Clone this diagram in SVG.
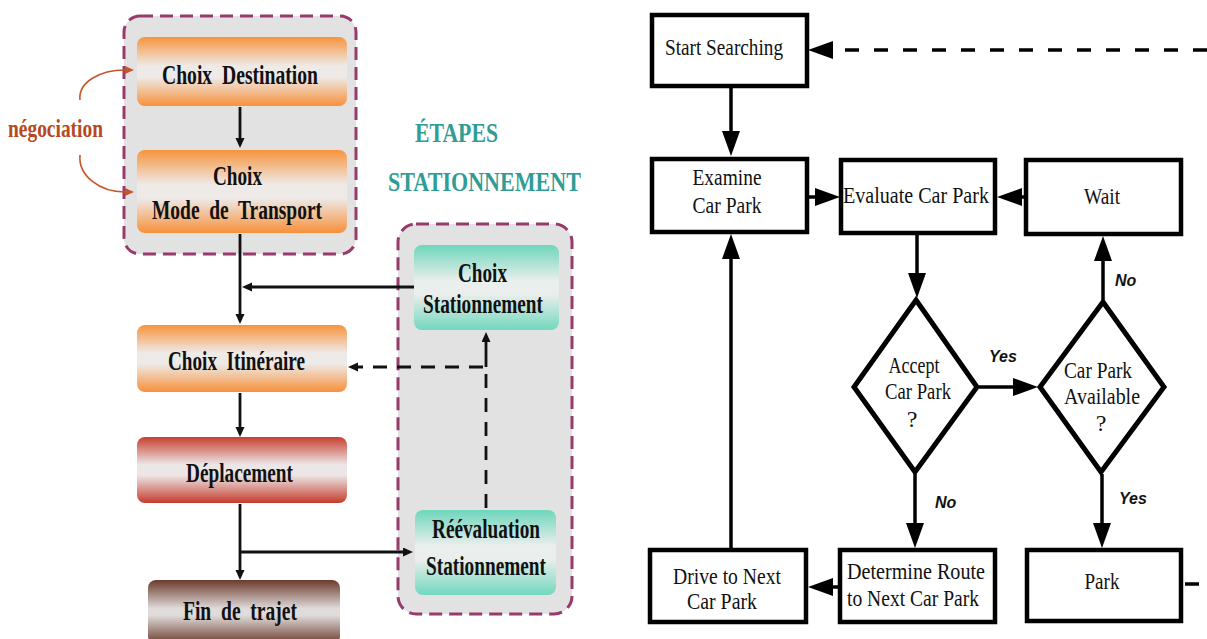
<svg xmlns="http://www.w3.org/2000/svg" width="1207" height="639" viewBox="0 0 1207 639">
<style>
.cont{fill:#e2e2e2;stroke:#973a6c;stroke-width:3;stroke-dasharray:13 7}
.lt{font-family:"Liberation Serif","Times New Roman",serif;font-weight:bold;font-size:27px;fill:#111;white-space:pre}
.ttl{font-family:"Liberation Serif","Times New Roman",serif;font-weight:bold;font-size:28px;fill:#2f9d96}
.neg{font-family:"Liberation Serif","Times New Roman",serif;font-weight:bold;font-size:25px;fill:#b54a22}
.rb{fill:#fff;stroke:#000;stroke-width:4.5}
.dm{fill:#fff;stroke:#000;stroke-width:5;stroke-linejoin:miter}
.rt{font-family:"Liberation Serif","Times New Roman",serif;font-size:24px;fill:#111;text-anchor:middle}
.lab{font-family:"Liberation Sans",Arial,sans-serif;font-weight:bold;font-style:italic;font-size:16px;fill:#111}
.lc{fill:none;stroke:#111;stroke-width:2.8}
.rc{fill:none;stroke:#000;stroke-width:3.5}
</style>
<defs>
<linearGradient id="gOr" x1="0" y1="0" x2="0" y2="1">
<stop offset="0" stop-color="#f7943c"/><stop offset="0.42" stop-color="#eeeae8"/><stop offset="0.58" stop-color="#eeeae8"/><stop offset="1" stop-color="#f7903a"/>
</linearGradient>
<linearGradient id="gRd" x1="0" y1="0" x2="0" y2="1">
<stop offset="0" stop-color="#c8402f"/><stop offset="0.42" stop-color="#ece6e6"/><stop offset="0.58" stop-color="#ece6e6"/><stop offset="1" stop-color="#c43c2c"/>
</linearGradient>
<linearGradient id="gBr" x1="0" y1="0" x2="0" y2="1">
<stop offset="0" stop-color="#6b3a2c"/><stop offset="0.45" stop-color="#e0dcdb"/><stop offset="0.55" stop-color="#e0dcdb"/><stop offset="1" stop-color="#6b3a2c"/>
</linearGradient>
<linearGradient id="gTl" x1="0" y1="0" x2="0" y2="1">
<stop offset="0" stop-color="#6ed6bc"/><stop offset="0.42" stop-color="#eaeeec"/><stop offset="0.58" stop-color="#eaeeec"/><stop offset="1" stop-color="#72d8be"/>
</linearGradient>
<marker id="sm" markerUnits="userSpaceOnUse" markerWidth="10" markerHeight="10" refX="0" refY="4.5" orient="auto"><path d="M0,0 L10,4.5 L0,9 z" fill="#111"/></marker>
<marker id="om" markerUnits="userSpaceOnUse" markerWidth="9" markerHeight="9" refX="0" refY="4" orient="auto"><path d="M0,0 L9,4 L0,8 z" fill="#c8552a"/></marker>
<marker id="big" markerUnits="userSpaceOnUse" markerWidth="26" markerHeight="20" refX="0" refY="9" orient="auto"><path d="M0,0 L25,9 L0,18 z" fill="#000"/></marker>
</defs>
<rect width="1207" height="639" fill="#fff"/>

<g id="group-decision">
<rect class="cont" x="124" y="16" width="232" height="238" rx="16"/>
</g>
<g id="group-stationnement">
<rect class="cont" x="398" y="224" width="174" height="390" rx="18"/>
</g>
<g id="title">
<text class="ttl" x="415" y="142" textLength="83" lengthAdjust="spacingAndGlyphs">ÉTAPES</text>
<text class="ttl" x="388" y="191" textLength="193" lengthAdjust="spacingAndGlyphs">STATIONNEMENT</text>
</g>
<g id="negociation">
<text class="neg" x="8" y="137" textLength="95" lengthAdjust="spacingAndGlyphs">négociation</text>
</g>

<g id="connectors">
<path class="lc" d="M240,107 L240,138" marker-end="url(#sm)"/>
<path class="lc" d="M240,234 L240,314" marker-end="url(#sm)"/>
<path class="lc" d="M414,287 L252,287" marker-end="url(#sm)"/>
<path class="lc" d="M486,367 L486,342" marker-end="url(#sm)"/>
<path class="lc" d="M486,508 L486,367 L358,367" stroke-dasharray="14 10" marker-end="url(#sm)"/>
<path class="lc" d="M240,393 L240,427" marker-end="url(#sm)"/>
<path class="lc" d="M240,504 L240,570" marker-end="url(#sm)"/>
<path class="lc" d="M240,552 L403,552" marker-end="url(#sm)"/>
<path d="M80,100 C78,82 100,70 125,70" fill="none" stroke="#c8552a" stroke-width="1.6" marker-end="url(#om)"/>
<path d="M80,155 C78,176 100,192 125,192" fill="none" stroke="#c8552a" stroke-width="1.6" marker-end="url(#om)"/>

<path class="rc" d="M1207,50 L833,50" stroke-width="5" stroke-dasharray="14 15" marker-end="url(#big)"/>
<path class="rc" d="M731,88 L731,131" marker-end="url(#big)"/>
<path class="rc" d="M809,197 L815,197" marker-end="url(#big)"/>
<path class="rc" d="M1024,197 L1022,197" marker-end="url(#big)"/>
<path class="rc" d="M917,235 L917,273" marker-end="url(#big)"/>
<path class="rc" d="M979,387 L1013,387" marker-end="url(#big)"/>
<path class="rc" d="M1103,300 L1103,261" marker-end="url(#big)"/>
<path class="rc" d="M915,474 L915,523" marker-end="url(#big)"/>
<path class="rc" d="M1102,474 L1102,523" marker-end="url(#big)"/>
<path class="rc" d="M838,587 L833,587" marker-end="url(#big)"/>
<path class="rc" d="M731,548 L731,259" marker-end="url(#big)"/>
<path class="rc" d="M1185,584 L1199,584" stroke-width="4"/>
</g>

<g id="choix-destination">
<rect x="137" y="37" width="210" height="69" rx="8" fill="url(#gOr)"/>
<text class="lt" x="162" y="84" textLength="156" lengthAdjust="spacingAndGlyphs" xml:space="preserve">Choix  Destination</text>
</g>
<g id="choix-mode">
<rect x="137" y="150" width="210" height="83" rx="8" fill="url(#gOr)"/>
<text class="lt" x="213" y="185" textLength="49" lengthAdjust="spacingAndGlyphs">Choix</text>
<text class="lt" x="152" y="219" textLength="170" lengthAdjust="spacingAndGlyphs" xml:space="preserve">Mode  de  Transport</text>
</g>
<g id="choix-itineraire">
<rect x="137" y="325" width="210" height="67" rx="8" fill="url(#gOr)"/>
<text class="lt" x="168" y="370" textLength="137" lengthAdjust="spacingAndGlyphs" xml:space="preserve">Choix  Itinéraire</text>
</g>
<g id="deplacement">
<rect x="137" y="437" width="210" height="66" rx="8" fill="url(#gRd)"/>
<text class="lt" x="186" y="482" textLength="107" lengthAdjust="spacingAndGlyphs">Déplacement</text>
</g>
<g id="fin-de-trajet">
<rect x="148" y="580" width="192" height="64" rx="8" fill="url(#gBr)"/>
<text class="lt" x="183" y="620" textLength="114" lengthAdjust="spacingAndGlyphs" xml:space="preserve">Fin  de  trajet</text>
</g>
<g id="choix-stationnement">
<rect x="414" y="245" width="145" height="85" rx="8" fill="url(#gTl)"/>
<text class="lt" x="458" y="282" textLength="49" lengthAdjust="spacingAndGlyphs">Choix</text>
<text class="lt" x="423" y="313" textLength="120" lengthAdjust="spacingAndGlyphs">Stationnement</text>
</g>
<g id="reevaluation-stationnement">
<rect x="415" y="510" width="141" height="85" rx="8" fill="url(#gTl)"/>
<text class="lt" x="432" y="538" textLength="108" lengthAdjust="spacingAndGlyphs">Réévaluation</text>
<text class="lt" x="426" y="575" textLength="120" lengthAdjust="spacingAndGlyphs">Stationnement</text>
</g>

<g id="start-searching">
<rect class="rb" x="652" y="15" width="155" height="71"/>
<text class="rt" x="724" y="55" textLength="118" lengthAdjust="spacingAndGlyphs">Start Searching</text>
</g>
<g id="examine-car-park">
<rect class="rb" x="652" y="159" width="155" height="73"/>
<text class="rt" x="727" y="185" textLength="69" lengthAdjust="spacingAndGlyphs">Examine</text>
<text class="rt" x="727" y="213" textLength="69" lengthAdjust="spacingAndGlyphs">Car Park</text>
</g>
<g id="evaluate-car-park">
<rect class="rb" x="841" y="160" width="154" height="73"/>
<text class="rt" x="916" y="203" textLength="146" lengthAdjust="spacingAndGlyphs">Evaluate Car Park</text>
</g>
<g id="wait">
<rect class="rb" x="1026" y="160" width="155" height="74"/>
<text class="rt" x="1102" y="204" textLength="36" lengthAdjust="spacingAndGlyphs">Wait</text>
</g>
<g id="accept-car-park">
<polygon class="dm" points="916,300 977,387 915,472 854,387"/>
<text class="rt" x="914" y="373" textLength="51" lengthAdjust="spacingAndGlyphs">Accept</text>
<text class="rt" x="918" y="399" textLength="66" lengthAdjust="spacingAndGlyphs">Car Park</text>
<text class="rt" x="912" y="427">?</text>
</g>
<g id="car-park-available">
<polygon class="dm" points="1103,302 1164,387 1101,472 1040,387"/>
<text class="rt" x="1098" y="378" textLength="68" lengthAdjust="spacingAndGlyphs">Car Park</text>
<text class="rt" x="1102" y="404" textLength="76" lengthAdjust="spacingAndGlyphs">Available</text>
<text class="rt" x="1101" y="431">?</text>
</g>
<g id="drive-next">
<rect class="rb" x="650" y="550" width="156" height="72"/>
<text class="rt" x="727" y="584" textLength="108" lengthAdjust="spacingAndGlyphs">Drive to Next</text>
<text class="rt" x="722" y="609" textLength="70" lengthAdjust="spacingAndGlyphs">Car Park</text>
</g>
<g id="determine-route">
<rect class="rb" x="840" y="550" width="155" height="72"/>
<text class="rt" x="916" y="579" textLength="138" lengthAdjust="spacingAndGlyphs">Determine Route</text>
<text class="rt" x="913" y="606" textLength="132" lengthAdjust="spacingAndGlyphs">to Next Car Park</text>
</g>
<g id="park">
<rect class="rb" x="1027" y="550" width="154" height="71"/>
<text class="rt" x="1102" y="589" textLength="35" lengthAdjust="spacingAndGlyphs">Park</text>
</g>
<g id="labels">
<text class="lab" x="989" y="362">Yes</text>
<text class="lab" x="1115" y="286">No</text>
<text class="lab" x="935" y="508">No</text>
<text class="lab" x="1119" y="504">Yes</text>
</g>
</svg>
